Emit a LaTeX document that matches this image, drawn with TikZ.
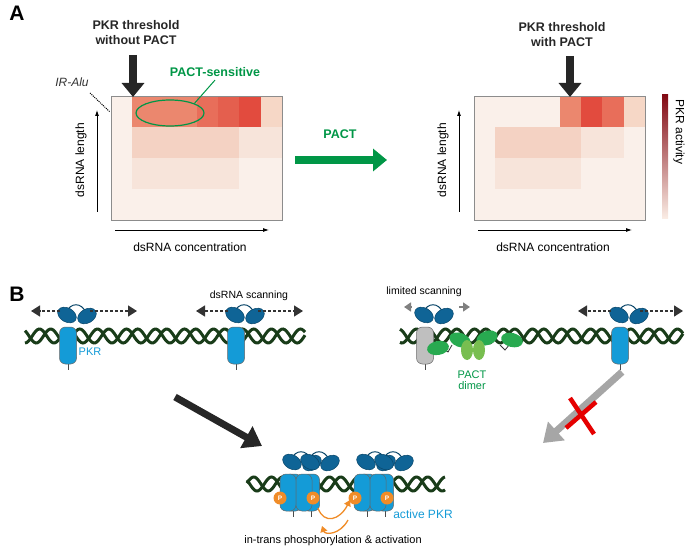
\documentclass[tikz,border=0pt]{standalone}
\usepackage{fontspec}
\setmainfont{Liberation Sans}
\usetikzlibrary{arrows.meta,shapes.geometric}
\definecolor{pkrb}{RGB}{20,155,215}
\definecolor{pkrd}{RGB}{15,100,150}
\definecolor{dna}{RGB}{25,60,25}
\definecolor{pgreen}{RGB}{0,150,70}
\definecolor{pact}{RGB}{40,170,80}
\definecolor{pactl}{RGB}{120,190,80}
\definecolor{orng}{RGB}{240,140,40}
\tikzset{
 lbl/.style={font=\fontsize{12}{14}\selectfont,align=center},
 hd/.style={font=\bfseries\fontsize{12.5}{15}\selectfont,align=center,text=black!85},
 ax/.style={-{Latex[length=6pt,width=4pt]},line width=0.8pt},
 bigarr/.style={-{Triangle[length=14pt,width=22pt]},line width=8pt},
 helix/.style={dna,line width=3pt},
 scan/.style={densely dashed,line width=1.5pt,black!80,-{Triangle[length=9pt,width=11pt,fill=black!80]}},
 dsrbd/.style={fill=pkrd,draw=pkrd!70!black,line width=0.5pt},
 pkr/.pic={
  \draw[pkrd!70!black,line width=1pt] (-2,-20) .. controls (2,-31) and (14,-31) .. (18,-20);
  \draw[dsrbd,rotate around={-30:(-1,-18)}] (-1,-18) ellipse (10 and 7);
  \draw[dsrbd,rotate around={30:(19,-17)}] (19,-17) ellipse (10 and 7);
  \draw[black!70,line width=0.8pt] (0,30)--(0,37);
  \draw[fill=\pkrcol,draw=black!60,line width=0.5pt,rounded corners=6pt] (-8.5,-6) rectangle (8.5,31);
 },
}
\newcommand\pkrcol{pkrb}
\newcommand\hx[3]{% x1 x2 y
 \draw[helix] plot[domain=#1:#2,samples=180] (\x,{#3+7*sin(\x/29*360)});
 \draw[helix] plot[domain=#1:#2,samples=180] (\x,{#3+7*sin(\x/29*360+140)});}
\begin{document}
\begin{tikzpicture}[x=1pt,y=-1pt]
\useasboundingbox (0,0) rectangle (685,548);
\node[font=\bfseries\fontsize{21}{23}\selectfont] (A) at (17,13) {A};
\node[font=\bfseries\fontsize{21}{23}\selectfont] (B) at (17,294) {B};
% heatmaps
\definecolor{c1}{RGB}{247,228,218}
\definecolor{c2}{RGB}{244,210,195}
\definecolor{c3}{RGB}{235,135,110}
\definecolor{c4}{RGB}{232,110,90}
\definecolor{c5}{RGB}{228,95,78}
\definecolor{c6}{RGB}{226,75,62}
\definecolor{c7}{RGB}{246,215,198}
\definecolor{c8}{RGB}{250,240,234}
\foreach \r/\cols in {0/{c8,c3,c3,c3,c4,c5,c6,c7},1/{c8,c2,c2,c2,c2,c2,c1,c1},2/{c8,c1,c1,c1,c1,c1,c8,c8},3/{c8,c8,c8,c8,c8,c8,c8,c8}}{
 \foreach \c [count=\i from 0] in \cols {
  \fill[\c] (111+\i*21.4,96+\r*31) rectangle (111+\i*21.4+21.5,96+\r*31+31.1);}}
\foreach \r/\cols in {0/{c8,c8,c8,c8,c3,c6,c4,c7},1/{c8,c2,c2,c2,c2,c1,c1,c8},2/{c8,c1,c1,c1,c1,c8,c8,c8},3/{c8,c8,c8,c8,c8,c8,c8,c8}}{
 \foreach \c [count=\i from 0] in \cols {
  \fill[\c] (474+\i*21.4,96+\r*31) rectangle (474+\i*21.4+21.5,96+\r*31+31.1);}}
\draw[black!45,line width=0.8pt] (111,96) rectangle (282,220);
\draw[black!45,line width=0.8pt] (474,96) rectangle (645,220);
% axes
\coordinate (ly0) at (97,212); \coordinate (ly1) at (97,110);
\coordinate (lx0) at (115,230); \coordinate (lx1) at (269,230);
\draw[ax] (ly0)--(ly1); \draw[ax] (lx0)--(lx1);
\node[lbl,rotate=90] (lyl) at (81,160) {dsRNA length};
\node[lbl] (lxl) at (190,247) {dsRNA concentration};
\coordinate (ry0) at (459,212); \coordinate (ry1) at (459,110);
\coordinate (rx0) at (478,230); \coordinate (rx1) at (632,230);
\draw[ax] (ry0)--(ry1); \draw[ax] (rx0)--(rx1);
\node[lbl,rotate=90] (ryl) at (443,160) {dsRNA length};
\node[lbl] (rxl) at (553,247) {dsRNA concentration};
% colorbar
\shade[top color={rgb,255:red,130;green,10;blue,20},bottom color={rgb,255:red,250;green,236;blue,228}] (662,95) rectangle (668,218);
\node[lbl,rotate=-90] (pa) at (679,132) {PKR activity};
% thresholds
\node[hd] (t1) at (136,33) {PKR threshold\\without PACT};
\coordinate (t1a) at (133,55); \coordinate (t1b) at (133,97);
\draw[bigarr,black!85] (t1a)--(t1b);
\node[hd] (t2) at (562,35) {PKR threshold\\with PACT};
\coordinate (t2a) at (570,56); \coordinate (t2b) at (570,97);
\draw[bigarr,black!85] (t2a)--(t2b);
\node[font=\itshape\fontsize{12}{14}\selectfont,text=black!80] (ir) at (72,82) {IR-Alu};
\coordinate (irc) at (110,112);
\draw[densely dotted,line width=1pt] (90,93)--(irc);
\node[draw=pgreen,line width=1.2pt,ellipse,minimum width=68pt,minimum height=26pt] (ps) at (170,113) {};
\node[hd,text=pgreen] (pst) at (215,72) {PACT-sensitive};
\draw[pgreen,line width=1pt] (ps.north east)--(pst.south);
\node[hd,text=pgreen] (pactl) at (340,134) {PACT};
\coordinate (pa0) at (295,160); \coordinate (pa1) at (387,160);
\draw[bigarr,pgreen] (pa0)--(pa1);
% Part B helices
\hx{25}{305}{336}
\hx{400}{683}{336}
\hx{247}{445}{484}
% PKRs top
\pic at (68,333) {pkr};
\pic at (236,333) {pkr};
\pic at (620,333) {pkr};
\renewcommand\pkrcol{black!25}
\pic at (425,333) {pkr};
\renewcommand\pkrcol{pkrb}
\node[lbl,text=pkrb,font=\fontsize{11}{13}\selectfont] (pkrl) at (90,352) {PKR};
\foreach \n/\a/\b in {s1/60/31,s2/90/137,s3/228/196,s4/258/303,s5/611/578,s6/640/683}{
 \coordinate (\n a) at (\a,311); \coordinate (\n b) at (\b,311);
 \draw[scan] (\n a)--(\n b);}
\node[lbl,font=\fontsize{10.5}{12}\selectfont] (dss) at (249,296) {dsRNA scanning};
\node[lbl,font=\fontsize{10.5}{12}\selectfont] (ls) at (424,292) {limited scanning};
\coordinate (l1a) at (411,307); \coordinate (l1b) at (404,307);
\coordinate (l2a) at (459,307); \coordinate (l2b) at (470,307);
\draw[black!50,line width=1.5pt,-{Triangle[length=7pt,width=9pt]}] (l1a)--(l1b);
\draw[black!50,line width=1.5pt,-{Triangle[length=7pt,width=9pt]}] (l2a)--(l2b);
% PACT
\draw[black!80,line width=0.8pt] (445,350)--(448,352)--(452,345);
\draw[black!80,line width=0.8pt] (500,345)--(505,350)--(510,344);
\foreach \x/\y/\r in {438/348/10,460/340/-20,487/338/20,512/340/-15}{
 \fill[pact,rotate around={\r:(\x,\y)}] (\x,\y) ellipse (11 and 7);}
\fill[pactl] (467,350) ellipse (6 and 10);
\fill[pactl] (479,350) ellipse (6 and 10);
\node[lbl,text=pgreen,font=\fontsize{11}{13}\selectfont] (pd) at (472,380) {PACT\\[-2pt]dimer};
% big arrows
\coordinate (ba0) at (175,397); \coordinate (ba1) at (262,446);
\draw[-{Triangle[length=18pt,width=24pt]},line width=7pt,black!85] (ba0)--(ba1);
\coordinate (ga0) at (622,372); \coordinate (ga1) at (543,443);
\draw[-{Triangle[length=18pt,width=24pt]},line width=7pt,black!35] (ga0)--(ga1);
\draw[red!90!black,line width=4.5pt] (570,398)--(594,434) (596,402)--(566,428);
% active dimers
\foreach \cx in {296,370}{
 \pic at (\cx-3,480) {pkr};
 \pic at (\cx+15,480) {pkr};
}
\foreach \cx in {288,304,362,378}{\draw[fill=pkrb,draw=black!60,line width=0.5pt,rounded corners=6pt] (\cx-8,474) rectangle (\cx+8,511);}
\foreach \x in {280,313,355,387}{
 \node[circle,fill=orng,inner sep=0pt,minimum size=13pt,text=white,font=\bfseries\fontsize{6.5}{7}\selectfont] (p\x) at (\x,498) {P};}
\coordinate (o1a) at (318,508); \coordinate (o1b) at (350,500);
\coordinate (o2a) at (348,520); \coordinate (o2b) at (322,526);
\draw[orng,line width=1.3pt,-{Triangle[length=6pt,width=7pt]}] (o1a) .. controls (324,525) and (340,520) .. (o1b);
\draw[orng,line width=1.3pt,-{Triangle[length=6pt,width=7pt]}] (o2a) .. controls (340,535) and (325,535) .. (o2b);
\node[lbl,text=pkrb] (ap) at (423,514) {active PKR};
\node[lbl,font=\fontsize{11}{13}\selectfont] (it) at (333,541) {in-trans phosphorylation \& activation};
\end{tikzpicture}
\end{document}
